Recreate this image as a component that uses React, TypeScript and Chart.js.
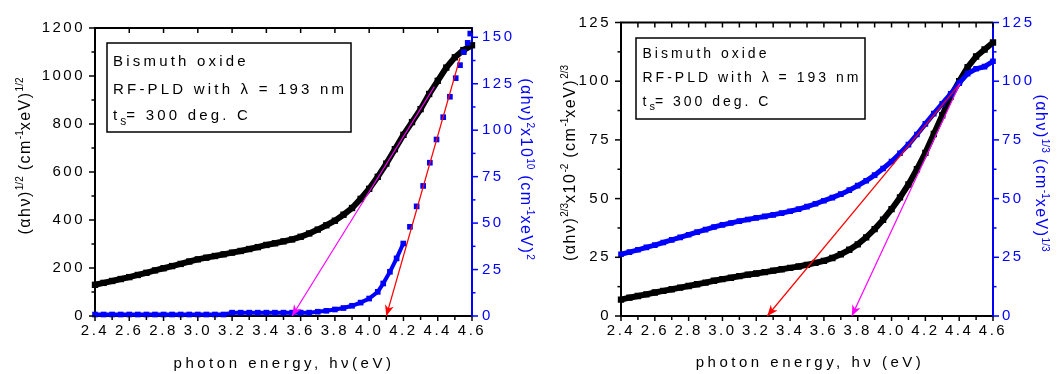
import React, { useEffect, useRef } from 'react';
import { Chart, registerables } from 'chart.js';

Chart.register(...registerables);

const FONT = '"Liberation Sans", Arial, Helvetica, sans-serif';
const BLUE = '#0000FF';
const BLACK = '#000000';
const MAGENTA = '#FF00FF';
const RED = '#FF0000';

// ---------- shared axis ticks ----------
const X_MAJOR = [2.4, 2.6, 2.8, 3.0, 3.2, 3.4, 3.6, 3.8, 4.0, 4.2, 4.4, 4.6];
const X_MINOR = [2.5, 2.7, 2.9, 3.1, 3.3, 3.5, 3.7, 3.9, 4.1, 4.3, 4.5];

// ---------- left panel data ----------
const L_X = [
  2.40, 2.45, 2.50, 2.55, 2.60, 2.65, 2.70, 2.75, 2.80, 2.85, 2.90, 2.95,
  3.00, 3.05, 3.10, 3.15, 3.20, 3.25, 3.30, 3.35, 3.40, 3.45, 3.50, 3.55,
  3.60, 3.65, 3.70, 3.75, 3.80, 3.85, 3.90, 3.95, 4.00, 4.05, 4.10, 4.15,
  4.20, 4.25, 4.30, 4.35, 4.40, 4.45, 4.50, 4.55, 4.60,
];
// (alpha h nu)^1/2
const L_BLACK = [
  130, 138, 146, 154, 162, 171, 180, 190, 199, 208, 217, 227,
  236, 243, 250, 257, 264, 271, 279, 287, 296, 303, 311, 319,
  330, 344, 360, 378, 397, 422, 450, 488, 530, 580, 635, 695,
  755, 808, 862, 925, 980, 1035, 1078, 1108, 1128,
];
// (alpha h nu)^2 x 10^10
const L_BLUE_X = [
  2.40, 2.45, 2.50, 2.55, 2.60, 2.65, 2.70, 2.75, 2.80, 2.85, 2.90, 2.95,
  3.00, 3.05, 3.10, 3.15, 3.20, 3.25, 3.30, 3.35, 3.40, 3.45, 3.50, 3.55,
  3.60, 3.65, 3.70, 3.75, 3.80, 3.85, 3.90, 3.95, 4.00, 4.05,
  4.082, 4.121, 4.160, 4.199, 4.238, 4.277, 4.315, 4.354, 4.393, 4.432,
  4.471, 4.505, 4.530, 4.552, 4.575, 4.590,
];
const L_BLUE = [
  0.8, 0.8, 0.8, 0.8, 0.8, 0.8, 0.8, 0.8, 0.8, 0.8, 0.8, 0.8,
  0.8, 0.8, 0.8, 0.8, 1.8, 1.8, 1.8, 1.8, 1.8, 1.8, 1.8, 1.8,
  1.8, 1.8, 2.3, 2.8, 3.5, 4.3, 5.5, 7.2, 9.4, 13,
  17.5, 23.8, 31, 39, 48, 59, 70, 82.5, 95, 107,
  118, 128, 135, 142, 147, 152,
];
const L_MAGENTA_X = [3.55, 4.38];
const L_MAGENTA_Y = [0, 955];
const L_RED_X = [4.10, 4.53];
const L_RED_Y = [0, 139];
const L_YL_MAJOR = [0, 200, 400, 600, 800, 1000, 1200];
const L_YL_MINOR = [100, 300, 500, 700, 900, 1100];
const L_YR_MAJOR = [0, 25, 50, 75, 100, 125, 150];
const L_YR_MINOR = [12.5, 37.5, 62.5, 87.5, 112.5, 137.5];

// ---------- right panel data ----------
const R_X = L_X;
// (alpha h nu)^2/3 x 10^-2
const R_BLACK = [
  7, 7.8, 8.5, 9.2, 10, 10.7, 11.4, 12.1, 12.8, 13.5,
  14.2, 15, 15.7, 16.3, 17, 17.6, 18.1, 18.7, 19.3, 19.9,
  20.5, 21.1, 21.8, 22.6, 23.5, 24.7, 26.3, 28.2, 30.5, 33.5,
  37, 41, 45.5, 50.5, 56, 62.5, 69.5, 77.5, 85.5, 93.5,
  100, 106, 110.5, 113.5, 116.5,
];
// (alpha h nu)^1/3
const R_BLUE = [
  26.3, 27.2, 28.2, 29.2, 30.2, 31.3, 32.4, 33.5, 34.6, 35.7,
  36.8, 37.9, 38.8, 39.6, 40.4, 41.1, 41.8, 42.4, 43.1, 43.8,
  44.6, 45.5, 46.6, 47.8, 49.1, 50.4, 51.9, 53.6, 55.5, 57.6,
  60, 62.8, 65.8, 69.3, 73, 77.3, 81.8, 86.2, 90.4, 94.6,
  99.2, 103.2, 105.3, 106.2, 108.5,
];
const R_RED_X = [3.265, 4.40];
const R_RED_Y = [0, 98.5];
const R_MAGENTA_X = [3.765, 4.405];
const R_MAGENTA_Y = [0, 99];
const R_Y_MAJOR = [0, 25, 50, 75, 100, 125];
const R_Y_MINOR = [12.5, 37.5, 62.5, 87.5, 112.5];

// ---------- texts ----------
const X_TITLE_L = 'photon energy, hν(eV)';
const X_TITLE_R = 'photon energy, hν (eV)';
const NOTE_1 = 'Bismuth oxide';
const NOTE_2 = 'RF-PLD with λ = 193 nm';
const NOTE_3A = 't';
const NOTE_3S = 's';
const NOTE_3B = '= 300 deg. C';

type Part = { t: string; s?: 'sup' | 'sub' };

const L_LEFT_TITLE: Part[] = [
  { t: '(αhν)' }, { t: '1/2', s: 'sup' }, { t: ' (cm' }, { t: '-1', s: 'sup' }, { t: 'xeV)' }, { t: '1/2', s: 'sup' },
];
const L_RIGHT_TITLE: Part[] = [
  { t: '(αhν)' }, { t: '2', s: 'sup' }, { t: 'x10' }, { t: '10', s: 'sup' }, { t: ' (cm' }, { t: '-1', s: 'sup' }, { t: 'xeV)' }, { t: '2', s: 'sup' },
];
const R_LEFT_TITLE: Part[] = [
  { t: '(αhν)' }, { t: '2/3', s: 'sup' }, { t: 'x10' }, { t: '-2', s: 'sup' }, { t: ' (cm' }, { t: '-1', s: 'sup' }, { t: 'xeV)' }, { t: '2/3', s: 'sup' },
];
const R_RIGHT_TITLE: Part[] = [
  { t: '(αhν)' }, { t: '1/3', s: 'sup' }, { t: ' (cm' }, { t: '-1', s: 'sup' }, { t: 'xeV)' }, { t: '1/3', s: 'sup' },
];

const TICK_SPACING = '2.5px';

function drawRich(ctx: any, parts: Part[], x: number, y: number, o: any) {
  ctx.save();
  ctx.translate(x, y);
  ctx.rotate(o.rotate || 0);
  const fN = `${o.size}px ${FONT}`;
  const fS = `${o.supSize}px ${FONT}`;
  const widths = parts.map((p) => {
    ctx.font = p.s ? fS : fN;
    ctx.letterSpacing = p.s ? '0px' : o.spacing;
    return ctx.measureText(p.t).width;
  });
  const total = widths.reduce((a, b) => a + b, 0);
  let cx = o.align === 'center' ? -total / 2 : 0;
  ctx.textAlign = 'left';
  ctx.textBaseline = 'alphabetic';
  ctx.fillStyle = o.color;
  parts.forEach((p, i) => {
    ctx.font = p.s ? fS : fN;
    ctx.letterSpacing = p.s ? '0px' : o.spacing;
    const dy = p.s === 'sup' ? -o.size * 0.42 : p.s === 'sub' ? o.size * 0.32 : 0;
    ctx.fillText(p.t, cx, dy + (o.baseOffset || 0));
    cx += widths[i];
  });
  ctx.restore();
}

function pts(xs: number[], ys: number[]) {
  return xs.map((x, i) => ({ x, y: ys[i] }));
}

function makePanel(canvas: HTMLCanvasElement, cfg: any) {
  const A = cfg.area;
  const setSpacing = (chart: any) => {
    chart.ctx.letterSpacing = TICK_SPACING;
  };
  const plugin = {
    id: 'frame' + cfg.name,
    beforeUpdate: setSpacing,
    beforeLayout: setSpacing,
    beforeDraw: setSpacing,
    afterDatasetsDraw(chart: any) {
      const ctx = chart.ctx;
      chart.data.datasets.forEach((ds: any, i: number) => {
        if (!ds.arrow) return;
        const meta = chart.getDatasetMeta(i);
        const p0 = meta.data[0];
        const p1 = meta.data[1];
        const ang = Math.atan2(p0.y - p1.y, p0.x - p1.x);
        const L = 11;
        const W = 4.5;
        const bx = p0.x - L * Math.cos(ang);
        const by = p0.y - L * Math.sin(ang);
        const nx = -Math.sin(ang);
        const ny = Math.cos(ang);
        ctx.save();
        ctx.fillStyle = ds.borderColor;
        ctx.beginPath();
        ctx.moveTo(p0.x, p0.y);
        ctx.lineTo(bx + nx * W, by + ny * W);
        ctx.lineTo(bx + 0.3 * L * Math.cos(ang), by + 0.3 * L * Math.sin(ang));
        ctx.lineTo(bx - nx * W, by - ny * W);
        ctx.closePath();
        ctx.fill();
        ctx.restore();
      });
    },
    afterDraw(chart: any) {
      const ctx = chart.ctx;
      const { left, right, top, bottom } = chart.chartArea;
      const sx = chart.scales.x;
      const yL = chart.scales.yL;
      const yR = chart.scales.yR;
      ctx.save();
      ctx.letterSpacing = '0px';
      // top frame line
      ctx.strokeStyle = BLACK;
      ctx.lineWidth = 2;
      ctx.beginPath();
      ctx.moveTo(left - 1, top);
      ctx.lineTo(right, top);
      ctx.stroke();
      const seg = (x1: number, y1: number, x2: number, y2: number) => {
        ctx.beginPath();
        ctx.moveTo(x1, y1);
        ctx.lineTo(x2, y2);
        ctx.stroke();
      };
      ctx.lineWidth = 1.5;
      ctx.strokeStyle = BLACK;
      X_MAJOR.forEach((v) => { const p = sx.getPixelForValue(v); seg(p, bottom, p, bottom + 5); });
      X_MINOR.forEach((v) => { const p = sx.getPixelForValue(v); seg(p, bottom, p, bottom + 4); });
      cfg.topTicks.forEach((v: number) => { const p = sx.getPixelForValue(v); seg(p, top, p, top + 5); });
      cfg.yL.major.forEach((v: number) => { const p = yL.getPixelForValue(v); seg(left - 6, p, left, p); });
      cfg.yL.minor.forEach((v: number) => { const p = yL.getPixelForValue(v); seg(left - 3.5, p, left, p); });
      ctx.strokeStyle = BLUE;
      cfg.yR.major.forEach((v: number) => { const p = yR.getPixelForValue(v); seg(right, p, right + 6, p); });
      cfg.yR.minor.forEach((v: number) => { const p = yR.getPixelForValue(v); seg(right, p, right + 3.5, p); });

      // axis titles
      drawRich(ctx, cfg.leftTitle, cfg.leftTitleAt[0], cfg.leftTitleAt[1], {
        size: 16, supSize: 10, spacing: '1.5px', color: BLACK, align: 'center', rotate: -Math.PI / 2, baseOffset: 4.5,
      });
      drawRich(ctx, cfg.rightTitle, cfg.rightTitleAt[0], cfg.rightTitleAt[1], {
        size: 16, supSize: 10, spacing: '1.5px', color: BLUE, align: 'center', rotate: Math.PI / 2, baseOffset: 4.5,
      });
      drawRich(ctx, [{ t: cfg.xTitle }], cfg.xTitleAt[0], cfg.xTitleAt[1], {
        size: 15, supSize: 10, spacing: '3.5px', color: BLACK, align: 'center', rotate: 0,
      });

      // note box
      const b = cfg.box;
      ctx.fillStyle = '#FFFFFF';
      ctx.fillRect(b.x, b.y, b.w, b.h);
      ctx.strokeStyle = BLACK;
      ctx.lineWidth = 1.5;
      ctx.strokeRect(b.x, b.y, b.w, b.h);
      const no = { size: cfg.noteSize, supSize: cfg.noteSize - 3, spacing: cfg.noteSpacing, color: BLACK, align: 'left', rotate: 0 };
      drawRich(ctx, [{ t: NOTE_1 }], b.tx, b.lines[0], no);
      drawRich(ctx, [{ t: NOTE_2 }], b.tx, b.lines[1], no);
      drawRich(ctx, [{ t: NOTE_3A }, { t: NOTE_3S, s: 'sub' }, { t: NOTE_3B }], b.tx, b.lines[2], no);
      ctx.restore();
    },
  };

  const tickFont = { size: 15, family: FONT };
  const fmt = (v: any) => String(v);
  const fitDs = (xs: number[], ys: number[], color: string, axis: string) => ({
    data: pts(xs, ys),
    yAxisID: axis,
    borderColor: color,
    backgroundColor: color,
    borderWidth: 1.2,
    pointRadius: 0,
    order: 0,
    arrow: true,
    clip: false,
  });

  return new Chart(canvas, {
    type: 'line',
    data: {
      datasets: [
        fitDs(cfg.magenta.x, cfg.magenta.y, MAGENTA, cfg.magenta.axis),
        fitDs(cfg.red.x, cfg.red.y, RED, cfg.red.axis),
        {
          data: pts(cfg.blue.x, cfg.blue.y),
          yAxisID: 'yR',
          borderColor: BLUE,
          backgroundColor: BLUE,
          borderWidth: cfg.blueWidth,
          pointStyle: 'rect',
          pointRadius: cfg.blueRadius,
          pointBorderWidth: 0,
          order: 1,
          clip: 4,
          segment: {
            borderColor: (c: any) => (c.p1.parsed.x > cfg.blueLineUntil ? 'rgba(0,0,0,0)' : BLUE),
          },
        },
        {
          data: pts(cfg.black.x, cfg.black.y),
          yAxisID: 'yL',
          borderColor: BLACK,
          backgroundColor: BLACK,
          borderWidth: 6,
          pointStyle: 'rect',
          pointRadius: 4.5,
          pointBorderWidth: 0,
          order: 2,
          clip: 4,
        },
      ] as any,
    },
    options: {
      responsive: false,
      animation: false,
      devicePixelRatio: 1,
      layout: { padding: { top: A.top, left: 0, right: 0, bottom: 0 } },
      elements: { line: { tension: 0 } },
      plugins: { legend: { display: false }, tooltip: { enabled: false } },
      scales: {
        x: {
          type: 'linear',
          min: 2.4,
          max: 4.6,
          afterBuildTicks: (s: any) => { s.ticks = X_MAJOR.map((v) => ({ value: v })); },
          afterFit: (s: any) => { s.height = cfg.height - A.bottom; },
          ticks: {
            callback: (v: any) => Number(v).toFixed(1),
            color: BLACK,
            font: tickFont,
            padding: 6,
            maxRotation: 0,
            autoSkip: false,
          },
          grid: { display: false, drawTicks: false },
          border: { display: true, color: BLACK, width: 2 },
        },
        yL: {
          type: 'linear',
          position: 'left',
          min: 0,
          max: cfg.yL.max,
          afterBuildTicks: (s: any) => { s.ticks = cfg.yL.major.map((v: number) => ({ value: v })); },
          afterFit: (s: any) => { s.width = A.left; },
          ticks: { color: BLACK, font: tickFont, padding: 10, callback: fmt },
          grid: { display: false, drawTicks: false },
          border: { display: true, color: BLACK, width: 2 },
        },
        yR: {
          type: 'linear',
          position: 'right',
          min: 0,
          max: cfg.yR.max,
          afterBuildTicks: (s: any) => { s.ticks = cfg.yR.major.map((v: number) => ({ value: v })); },
          afterFit: (s: any) => { s.width = cfg.width - A.right; },
          ticks: { color: BLUE, font: tickFont, padding: cfg.yRPad, callback: fmt },
          grid: { display: false, drawTicks: false },
          border: { display: true, color: BLUE, width: 2 },
        },
      },
    } as any,
    plugins: [plugin],
  });
}

const LEFT_CFG = {
  name: 'L',
  width: 548,
  height: 374,
  area: { left: 95, right: 472, top: 28, bottom: 316 },
  black: { x: L_X, y: L_BLACK },
  blue: { x: L_BLUE_X, y: L_BLUE },
  blueLineUntil: 4.2,
  blueWidth: 4,
  blueRadius: 4,
  magenta: { x: L_MAGENTA_X, y: L_MAGENTA_Y, axis: 'yL' },
  red: { x: L_RED_X, y: L_RED_Y, axis: 'yR' },
  yL: { max: 1200, major: L_YL_MAJOR, minor: L_YL_MINOR },
  yR: { max: 155, major: L_YR_MAJOR, minor: L_YR_MINOR },
  yRPad: 10,
  topTicks: X_MAJOR,
  leftTitle: L_LEFT_TITLE,
  leftTitleAt: [25.5, 156],
  rightTitle: L_RIGHT_TITLE,
  rightTitleAt: [525, 169],
  xTitle: X_TITLE_L,
  xTitleAt: [284, 368],
  box: { x: 107, y: 43, w: 244, h: 89, tx: 113, lines: [66, 94, 120] },
  noteSize: 15,
  noteSpacing: '3.2px',
};

const RIGHT_CFG = {
  name: 'R',
  width: 513,
  height: 374,
  area: { left: 73, right: 445, top: 22.5, bottom: 316 },
  black: { x: R_X, y: R_BLACK },
  blue: { x: R_X, y: R_BLUE },
  blueLineUntil: 5,
  blueWidth: 5,
  blueRadius: 4,
  magenta: { x: R_MAGENTA_X, y: R_MAGENTA_Y, axis: 'yL' },
  red: { x: R_RED_X, y: R_RED_Y, axis: 'yR' },
  yL: { max: 125, major: R_Y_MAJOR, minor: R_Y_MINOR },
  yR: { max: 125, major: R_Y_MAJOR, minor: R_Y_MINOR },
  yRPad: 9,
  topTicks: [...X_MAJOR, ...X_MINOR],
  leftTitle: R_LEFT_TITLE,
  leftTitleAt: [22, 163],
  rightTitle: R_RIGHT_TITLE,
  rightTitleAt: [492, 173],
  xTitle: X_TITLE_R,
  xTitleAt: [262, 367],
  box: { x: 88, y: 38, w: 229, h: 81, tx: 94.5, lines: [57.5, 82, 106] },
  noteSize: 14,
  noteSpacing: '3px',
};

function Panel({ cfg, left }: { cfg: any; left: number }) {
  const ref = useRef<HTMLCanvasElement | null>(null);
  useEffect(() => {
    if (!ref.current) return;
    const chart = makePanel(ref.current, cfg);
    return () => chart.destroy();
  }, [cfg]);
  return (
    <canvas
      ref={ref}
      width={cfg.width}
      height={cfg.height}
      style={{ position: 'absolute', left, top: 0, width: cfg.width, height: cfg.height }}
    />
  );
}

export default function App() {
  return (
    <div style={{ position: 'absolute', left: 0, top: 0, width: 1061, height: 374, background: '#fff', overflow: 'hidden' }}>
      <Panel cfg={LEFT_CFG} left={0} />
      <Panel cfg={RIGHT_CFG} left={548} />
    </div>
  );
}
